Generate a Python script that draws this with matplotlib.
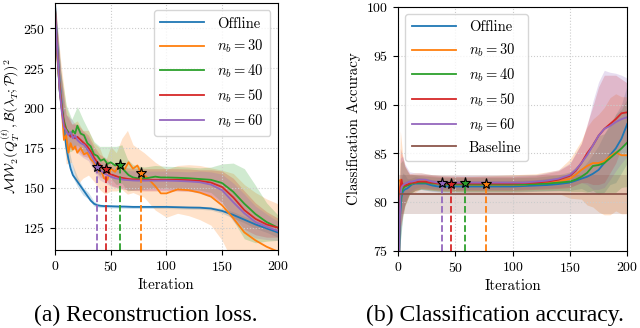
import numpy as np
import matplotlib
matplotlib.use("Agg")
import matplotlib.pyplot as plt

plt.rcParams['font.family'] = 'serif'
plt.rcParams['font.serif'] = ['cmr10', 'DejaVu Serif']
plt.rcParams['mathtext.fontset'] = 'cm'
plt.rcParams['axes.formatter.use_mathtext'] = True
plt.rcParams['axes.unicode_minus'] = False

# ---- (a) reconstruction loss ----
it_a = [0, 2, 4, 6, 8, 10, 12, 14, 16, 18, 20, 23, 26, 29, 32, 35, 38, 41, 44, 47, 50,
        54, 58, 62, 66, 70, 74, 78, 82, 86, 90, 95, 100, 110, 120, 130, 140, 150, 160,
        170, 180, 190, 200]
loss_offline = [265, 240, 218, 203, 188, 176, 168, 162, 158, 156, 154, 151, 148, 145, 142,
                140, 139, 138.7, 138.5, 138.5, 138.4, 138.3, 138.2, 138.2, 138.1, 138, 138,
                138, 138, 138, 138, 138, 138, 137.8, 137.6, 137.5, 137, 135.5, 133, 130, 127,
                124.5, 122]
loss_30 = [262, 232, 215, 200, 180, 183, 172, 178, 174, 176, 172, 175, 171, 172, 168, 166,
           160, 162, 156, 155, 162, 160, 165, 161, 166, 162, 164, 158, 157, 154, 151, 146.5,
           146.5, 149, 148.5, 147, 144.5, 139, 131, 122, 117, 113, 110]
loss_40 = [262, 235, 212, 200, 192, 187, 185, 183, 186, 184, 189, 184, 183, 178, 176, 171,
           170, 167, 168, 165, 166, 164, 165, 161, 158, 156.5, 156, 156, 156, 156.5, 157,
           156.5, 156.5, 156.3, 156, 155.5, 155, 153, 147.5, 140, 133.5, 128.5, 125]
loss_50 = [262, 236, 213, 200, 190, 186, 184, 182, 183, 181, 182, 180, 178, 176, 173, 169,
           166, 164, 162, 160, 158.5, 157.5, 156.5, 156, 155.5, 155.3, 155.2, 155, 155, 155,
           155, 155, 155, 155, 154.8, 154.3, 153.3, 150.5, 144, 136, 130.5, 127, 125]
loss_60 = [262, 236, 212, 198, 188, 186, 183, 185, 181, 183, 180, 178, 177, 174, 171, 167,
           164, 161, 159, 158, 157, 156, 155.5, 155, 154.8, 154.6, 154.5, 154.5, 154.5, 154.5,
           154.5, 154.5, 154.5, 154.3, 154, 153.5, 152, 148.5, 141, 134, 128.5, 125.5, 123]

it_a_band = [0, 5, 10, 15, 20, 25, 30, 35, 40, 45, 50, 55, 60, 65, 70, 80, 90, 100, 110,
             120, 130, 140, 150, 160, 170, 180, 190, 200]
band_a_offline = [5, 8, 6, 4, 3, 2.5, 2, 1.5, 1, 1, 1, 1, 1, 1, 1, 1, 1, 1, 1, 1, 1, 1, 1.5,
                  2, 2, 2.5, 2.5, 3]
band_a_30 = [5, 15, 18, 12, 20, 15, 14, 12, 13, 10, 14, 12, 16, 20, 15, 14, 15, 15, 15, 16,
             17, 18, 22, 28, 30, 30, 30, 30]
band_a_40 = [5, 12, 15, 10, 12, 10, 8, 8, 9, 8, 10, 12, 12, 10, 8, 7, 7, 7, 7, 7, 7, 8, 12,
             18, 22, 18, 12, 8]
band_a_50 = [5, 10, 10, 8, 8, 8, 7, 7, 7, 7, 7, 7, 7, 7, 7, 7, 7, 7, 7, 7, 7, 8, 10, 12, 12,
             10, 8, 6]
band_a_60 = [5, 10, 10, 8, 8, 8, 7, 7, 6, 6, 6, 6, 6, 6, 6, 6, 6, 6, 6, 6, 7, 8, 10, 12, 12,
             10, 8, 6]

# ---- (b) classification accuracy ----
it_b = [0, 1, 2, 3, 4, 5, 6, 8, 10, 12, 15, 18, 21, 24, 27, 30, 35, 40, 45, 50, 60, 70, 80,
        90, 100, 110, 120, 130, 140, 150, 155, 160, 165, 170, 175, 180, 185, 190, 195, 200]
acc_offline = [70, 75, 79, 80.5, 81, 81.2, 81.3, 81.4, 81.6, 81.8, 81.9, 81.9, 81.9, 81.9,
               81.8, 81.7, 81.6, 81.6, 81.6, 81.6, 81.6, 81.6, 81.6, 81.6, 81.6, 81.65, 81.7,
               81.75, 81.85, 82.0, 82.2, 82.4, 82.6, 82.9, 83.3, 84, 84.8, 85.5, 86.5, 88]
acc_30 = [70, 78, 82.3, 81.5, 81.8, 81.5, 81.7, 81.7, 81.9, 81.9, 82, 82.1, 82.2, 82.2, 82.1,
          82, 81.9, 81.9, 81.9, 81.9, 81.8, 81.8, 81.8, 81.8, 81.8, 81.8, 81.9, 82, 82.1,
          82.4, 82.8, 83.3, 83.7, 84, 84, 84.2, 84.7, 85.1, 84.8, 84.8]
acc_40 = [70, 76, 80, 81, 81.3, 81.5, 81.6, 81.7, 81.8, 81.9, 82, 82, 82, 82, 82, 81.9, 81.9,
          81.8, 81.8, 81.8, 81.8, 81.8, 81.8, 81.8, 81.8, 81.8, 81.85, 81.9, 82, 82.1, 82.3,
          82.6, 83, 83.7, 83.8, 84, 84.5, 85, 85.5, 86.1]
acc_50 = [70, 77, 81.5, 82.3, 81.6, 81.8, 81.7, 81.8, 81.9, 82, 82, 82.1, 82.1, 82.1, 82, 82,
          81.9, 81.9, 81.9, 81.9, 81.9, 81.9, 81.9, 81.9, 81.9, 81.95, 82, 82.1, 82.3, 82.7,
          83.2, 84, 85, 85.8, 86.8, 87.5, 88, 88.5, 89.1, 89.2]
acc_60 = [70, 76, 80.5, 81.5, 81.7, 81.8, 81.9, 82, 82.1, 82.1, 82.2, 82.3, 82.3, 82.3, 82.2,
          82.1, 82, 82, 82, 82, 82, 82, 82, 82, 82, 82, 82.1, 82.2, 82.4, 82.8, 83.3, 84,
          84.8, 85.8, 86.8, 87.5, 87.8, 88.2, 88.5, 88.7]

it_b_band = [0, 2, 4, 6, 8, 10, 15, 20, 30, 40, 60, 80, 100, 120, 140, 150, 160, 165, 170,
             175, 180, 185, 190, 195, 200]
band_b_offline = [5, 3, 2, 1.5, 1, 0.8, 0.7, 0.6, 0.6, 0.6, 0.6, 0.6, 0.6, 0.6, 0.7, 0.8, 1,
                  1.5, 2, 2.5, 3, 3, 3.5, 3.5, 4]
band_b_30 = [6, 5, 3, 2, 1.5, 1, 1, 0.8, 0.8, 0.8, 0.8, 0.9, 1, 1, 1.2, 2, 3, 4, 4.5, 5, 5.5,
             6, 6, 6, 6]
band_b_40 = [5, 4, 3, 2, 1.5, 1, 0.8, 0.7, 0.7, 0.7, 0.7, 0.7, 0.7, 0.7, 0.8, 1, 1.5, 2, 2.5,
             3, 3, 3.5, 4, 4, 4.5]
band_b_50 = [5, 4, 3, 2, 1.5, 1, 0.8, 0.7, 0.7, 0.7, 0.7, 0.7, 0.7, 0.7, 0.9, 1.2, 2, 3, 4,
             5, 5.5, 5, 4.5, 3.5, 3]
band_b_60 = [5, 4, 3, 2, 1.5, 1, 0.8, 0.7, 0.7, 0.7, 0.7, 0.7, 0.7, 0.7, 0.9, 1.2, 2, 3, 4.5,
             5.5, 6, 5.5, 5, 4.5, 4]
baseline_acc = 80.8
baseline_band = 2.0

# stopping points (stars)
labels = ['Offline', r'$n_b = 30$', r'$n_b = 40$', r'$n_b = 50$', r'$n_b = 60$']
colors = ['tab:blue', 'tab:orange', 'tab:green', 'tab:red', 'tab:purple']
stop_it = [77, 58, 46, 38]          # n_b = 30, 40, 50, 60
stop_loss = [159.5, 164.5, 162, 163]
stop_acc = [81.9, 82, 81.9, 82]

fig = plt.figure(figsize=(6.4, 3.28), dpi=100)
ax1 = fig.add_axes([0.086, 0.238, 0.348, 0.753])
ax2 = fig.add_axes([0.622, 0.235, 0.358, 0.744])

loss_means = [loss_offline, loss_30, loss_40, loss_50, loss_60]
loss_bands = [band_a_offline, band_a_30, band_a_40, band_a_50, band_a_60]
acc_means = [acc_offline, acc_30, acc_40, acc_50, acc_60]
acc_bands = [band_b_offline, band_b_30, band_b_40, band_b_50, band_b_60]

# band values need the mean at the band iterations -> take the nearest mean sample
def band_centre(it_mean, mean, it_band):
    it_mean = np.array(it_mean)
    return np.array([mean[np.argmin(np.abs(it_mean - t))] for t in it_band])

for m, b, c, lab in zip(loss_means, loss_bands, colors, labels):
    ctr = band_centre(it_a, m, it_a_band)
    ax1.fill_between(it_a_band, ctr - np.array(b), ctr + np.array(b), color=c, alpha=0.22, lw=0)
    ax1.plot(it_a, m, color=c, lw=1.3, label=lab)

for m, b, c, lab in zip(acc_means, acc_bands, colors, labels):
    ctr = band_centre(it_b, m, it_b_band)
    ax2.fill_between(it_b_band, ctr - np.array(b), ctr + np.array(b), color=c, alpha=0.22, lw=0)
    ax2.plot(it_b, m, color=c, lw=1.3, label=lab)
ax2.fill_between([0, 200], [baseline_acc - baseline_band] * 2, [baseline_acc + baseline_band] * 2,
                 color='tab:brown', alpha=0.22, lw=0)
ax2.plot([0, 200], [baseline_acc] * 2, color='tab:brown', lw=1.3, label='Baseline')

ylims = [(111, 266), (75, 100)]
for ax, sy, yl in [(ax1, stop_loss, ylims[0]), (ax2, stop_acc, ylims[1])]:
    for x, y, c in zip(stop_it, sy, colors[1:]):
        ax.vlines(x, yl[0], y, colors=c, linestyles='--', lw=1.3)
        ax.plot(x, y, marker='*', ms=8, mfc=c, mec='black', mew=0.8, zorder=5)
    ax.set_xlim(0, 200)
    ax.set_ylim(*yl)
    ax.set_xticks([0, 50, 100, 150, 200])
    ax.grid(True, color='#cccccc', ls=':', lw=0.8)
    ax.tick_params(labelsize=10)
    ax.set_xlabel('Iteration', fontsize=10.8, labelpad=3)

ax1.set_yticks([125, 150, 175, 200, 225, 250])
ax2.set_yticks([75, 80, 85, 90, 95, 100])
ax1.set_ylabel(r'$\mathcal{MW}_2(Q_T^{(t)}, \mathcal{B}(\lambda_T;\mathcal{P}))^2$', fontsize=10,
               labelpad=1)
ax2.set_ylabel('Classification Accuracy', fontsize=10.8)

leg_kw = dict(fontsize=10.5, handlelength=3.0, labelspacing=0.5, borderpad=0.45,
              handletextpad=0.9)
ax1.legend(loc='upper right', **leg_kw)
ax2.legend(loc='upper left', **leg_kw)

fig.text(0.227, 0.038, '(a) Reconstruction loss.', ha='center', va='center',
         family='Liberation Serif', fontsize=17)
fig.text(0.773, 0.038, '(b) Classification accuracy.', ha='center', va='center',
         family='Liberation Serif', fontsize=17)

fig.savefig('out.png', dpi=100)
